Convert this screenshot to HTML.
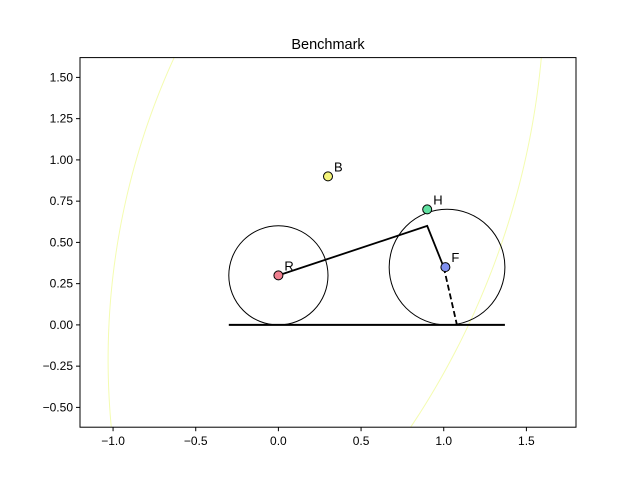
<!DOCTYPE html>
<html><head><meta charset="utf-8"><style>body{margin:0;background:#fff}svg{display:block;font-family:"Liberation Sans","DejaVu Sans",sans-serif}</style></head>
<body>
<svg id="chart" width="640" height="480"></svg>
<script>
const xTicks=[-1.0,-0.5,0.0,0.5,1.0,1.5];
const yTicks=[-0.5,-0.25,0.0,0.25,0.5,0.75,1.0,1.25,1.5];
const circleCx=[0,1.02], circleCy=[0.3,0.35], circleR=[0.3,0.35];
const groundX=[-0.3,1.37], groundY=[0,0];
const solidX=[0,0.9,1.0], solidY=[0.3,0.6,0.35];
const dashX=[1.0,1.08], dashY=[0.35,0];
const ptLabels=["R","B","H","F"];
const ptX=[0,0.3,0.9,1.01], ptY=[0.3,0.9,0.7,0.35];
const ptColors=["#f08090","#f4f47a","#60e0a0","#8090f0"];
const leftArc=[3.36,-0.21,4.39];   // center x, center y, radius
const rightArc=[-3.215,2.056,4.825];
const L=80,R=576,T=57.6,B=427.2,x0=-1.2,x1=1.8,y0=-0.62,y1=1.62;
const sx=v=>L+(v-x0)/(x1-x0)*(R-L), sy=v=>B-(v-y0)/(y1-y0)*(B-T);
const svg=document.getElementById('chart');const NS="http://www.w3.org/2000/svg";
function mk(t,a,p){const e=document.createElementNS(NS,t);for(const k in a)e.setAttribute(k,a[k]);(p||svg).appendChild(e);return e;}
const clip=mk('clipPath',{id:'cp'});mk('rect',{x:L,y:T,width:R-L,height:B-T},clip);
const g=mk('g',{'clip-path':'url(#cp)'});
let d="";for(let i=0;i<=80;i++){const y=y0+(y1-y0)*i/80;const x=leftArc[0]-Math.sqrt(leftArc[2]**2-(y-leftArc[1])**2);d+=(i?"L":"M")+sx(x)+","+sy(y);}
let e=mk('path',{d:d,fill:'none',stroke:'#f4fcb0','stroke-width':1},g);

d="";for(let i=0;i<=80;i++){const y=y0+(y1-y0)*i/80;const x=rightArc[0]+Math.sqrt(rightArc[2]**2-(y-rightArc[1])**2);d+=(i?"L":"M")+sx(x)+","+sy(y);}
e=mk('path',{d:d,fill:'none',stroke:'#f4fcb0','stroke-width':1},g);

circleCx.forEach((c,i)=>{const k=(R-L)/(x1-x0);e=mk('circle',{cx:sx(c),cy:sy(circleCy[i]),r:circleR[i]*k,fill:'none',stroke:'#000','stroke-width':1},g);
});
e=mk('line',{x1:sx(groundX[0]),y1:sy(groundY[0]),x2:sx(groundX[1]),y2:sy(groundY[1]),stroke:'#000','stroke-width':2},g);

e=mk('polyline',{points:solidX.map((x,i)=>sx(x)+","+sy(solidY[i])).join(" "),fill:'none',stroke:'#000','stroke-width':1.8},g);

e=mk('line',{x1:sx(dashX[0]),y1:sy(dashY[0]),x2:sx(dashX[1]),y2:sy(dashY[1]),stroke:'#000','stroke-width':1.8,'stroke-dasharray':'6,3'},g);

ptX.forEach((x,i)=>{e=mk('circle',{cx:sx(x),cy:sy(ptY[i]),r:4.5,fill:ptColors[i],stroke:'#000','stroke-width':1},g);

e=mk('text',{x:sx(x)+6,y:sy(ptY[i])-5,'font-size':13},g);e.textContent=ptLabels[i];
});
e=mk('rect',{x:L,y:T,width:R-L,height:B-T,fill:'none',stroke:'#000','stroke-width':1});

xTicks.forEach(t=>{const x=sx(t);mk('line',{x1:x,y1:B,x2:x,y2:B+4,stroke:'#000'});
e=mk('text',{x:x,y:B+18,'font-size':12,'text-anchor':'middle'});e.textContent=(t<0?"\u2212":"")+Math.abs(t).toFixed(1);
});
yTicks.forEach(t=>{const y=sy(t);mk('line',{x1:L-4,y1:y,x2:L,y2:y,stroke:'#000'});
e=mk('text',{x:L-7,y:y+4,'font-size':12,'text-anchor':'end'});e.textContent=(t<0?"\u2212":"")+Math.abs(t).toFixed(2);
});
e=mk('text',{x:(L+R)/2,y:49,'font-size':14.5,'text-anchor':'middle'});e.textContent="Benchmark";

</script>
</body></html>
